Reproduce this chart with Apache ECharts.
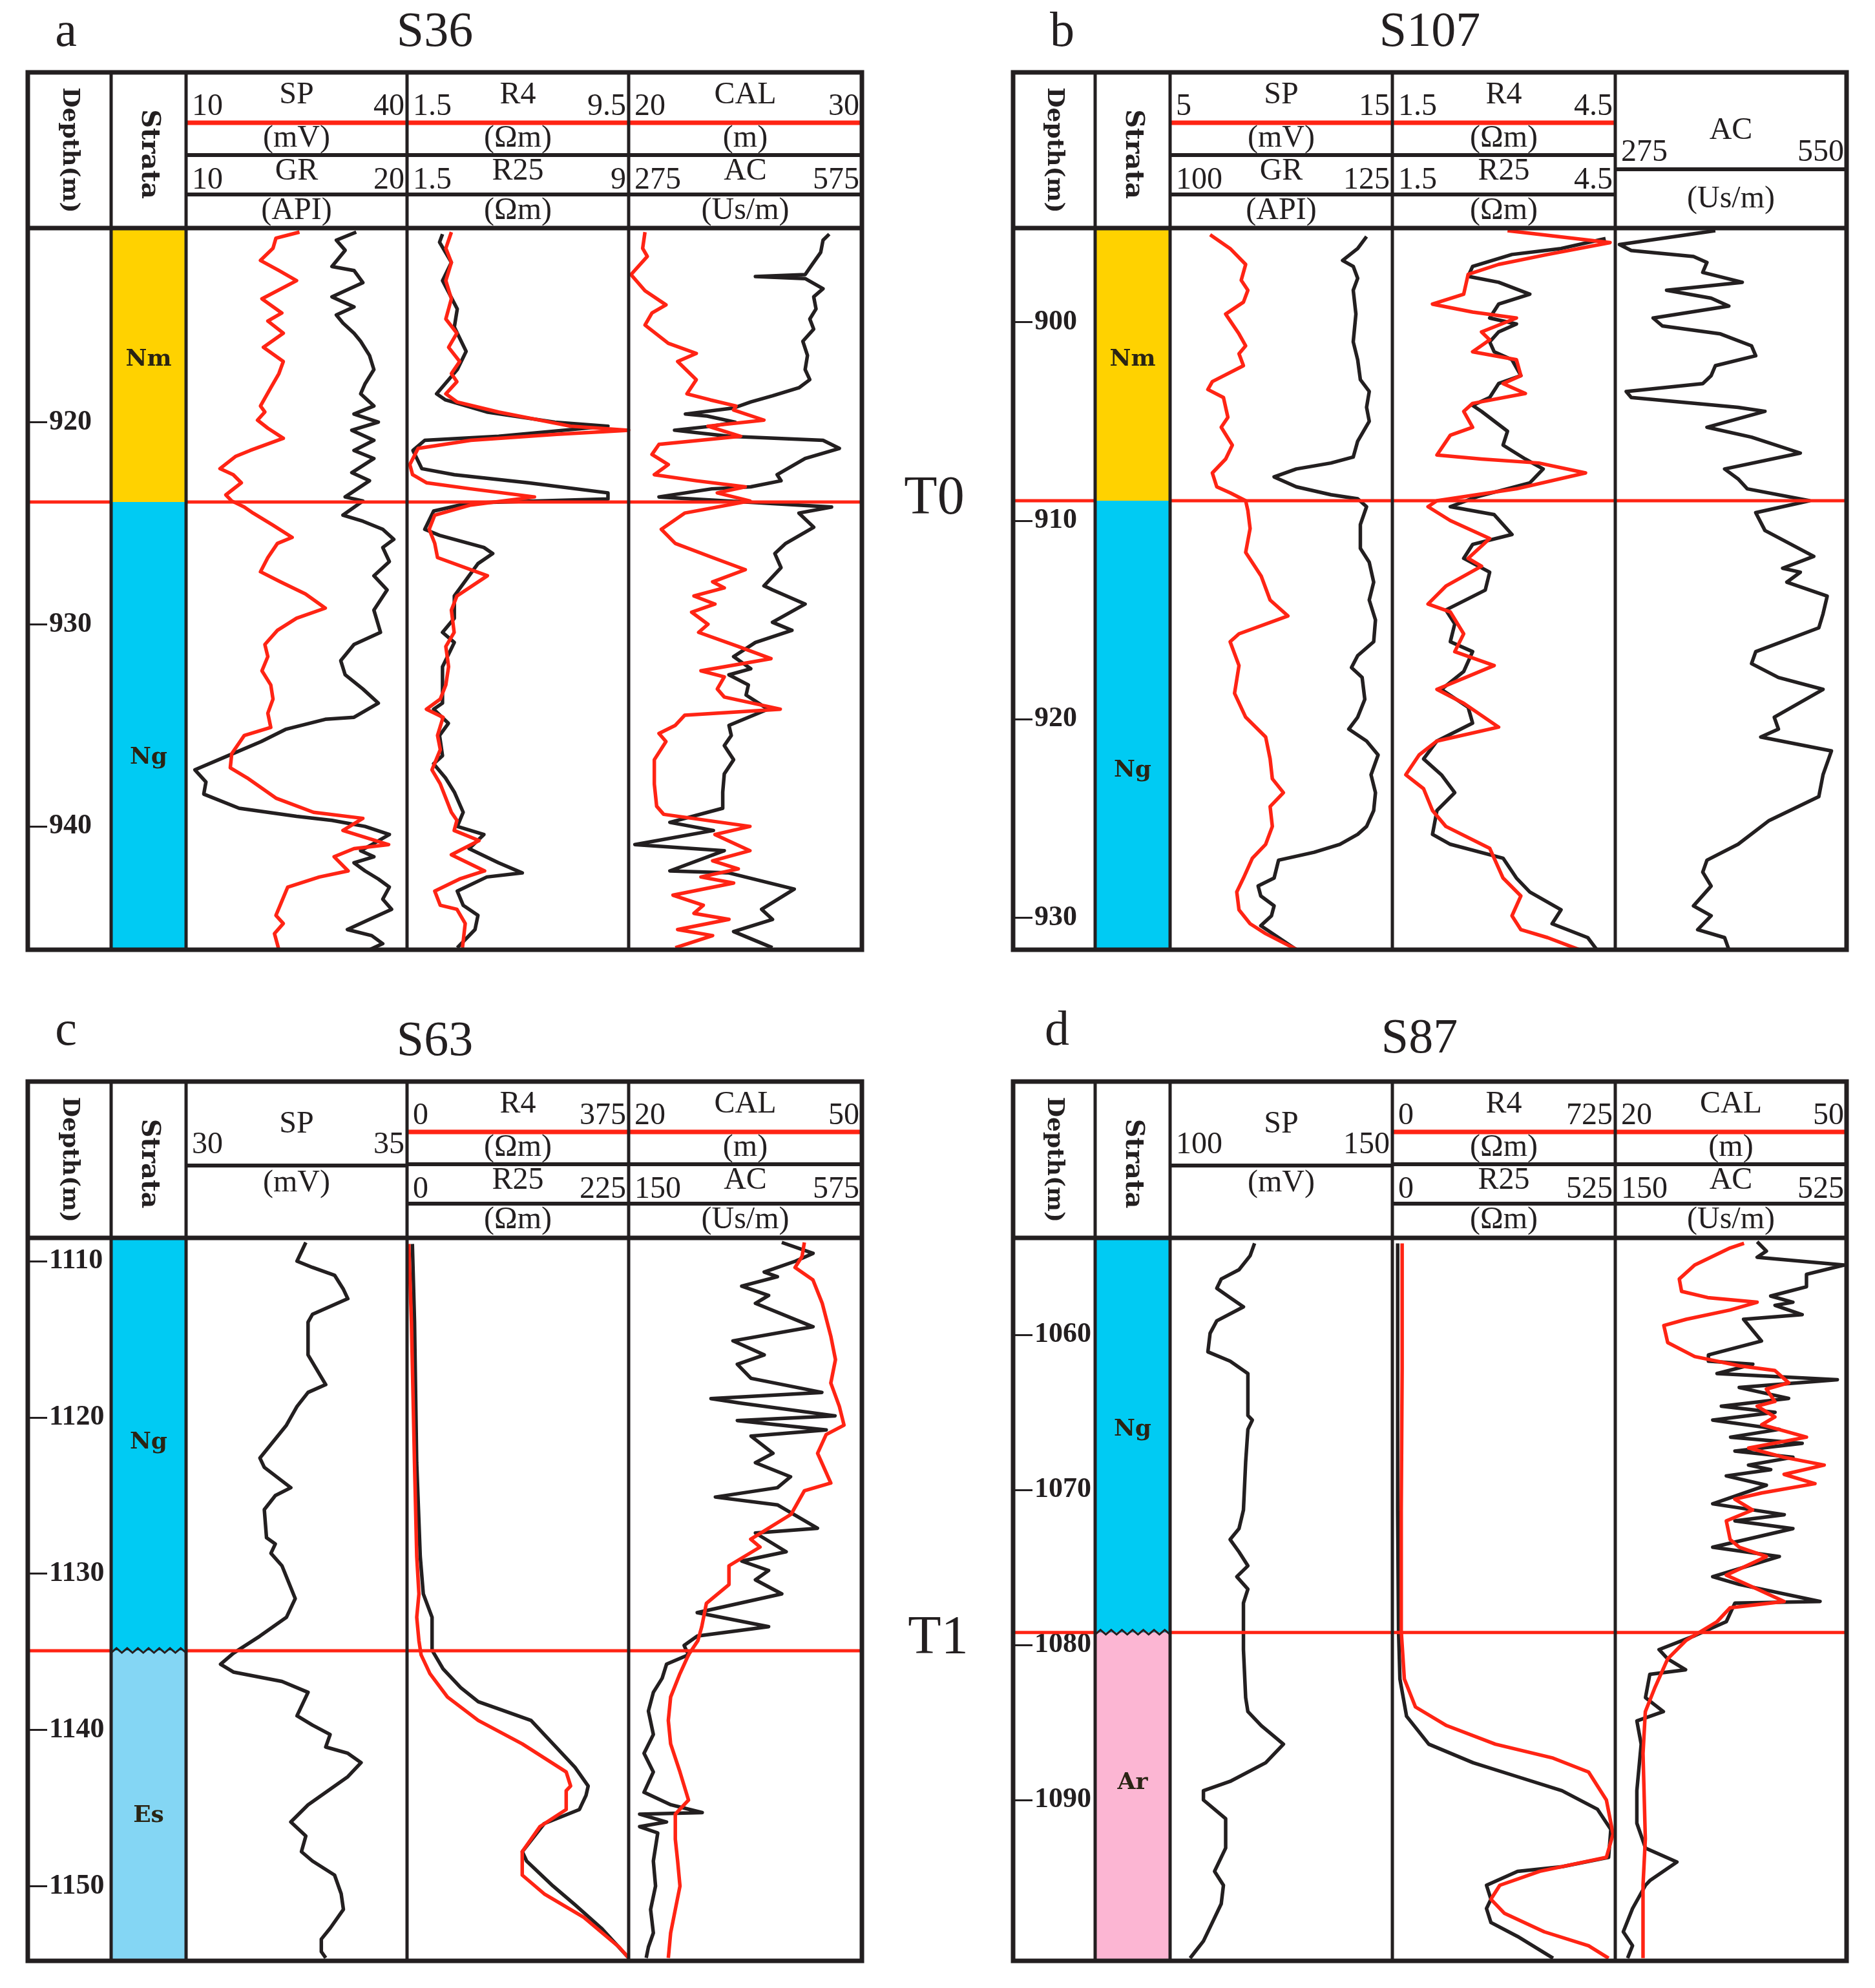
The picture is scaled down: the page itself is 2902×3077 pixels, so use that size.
<!DOCTYPE html>
<html>
<head>
<meta charset="utf-8">
<script src="https://cdn.jsdelivr.net/npm/echarts@6.0.0/dist/echarts.min.js"></script>
<style>
  html, body { margin: 0; background: #fff; }
  #chart { width: 2902px; height: 3077px; }
</style>
</head>
<body>
<div id="chart"></div>
<script>
// well S36 (a) : [value, depth]
const aRange = [910.4, 946.1];
const aTicks = [920, 930, 940];
const aTop = 923.95;
const aStrata = [[910.4, 923.95, 'Nm', 916.9], [923.95, 946.1, 'Ng', 936.6]];
const aHeads = [['SP', 10, 40, '(mV)'], ['GR', 10, 20, '(API)'], ['R4', 1.5, 9.5, '(Ωm)'], ['R25', 1.5, 9, '(Ωm)'], ['CAL', 20, 30, '(m)'], ['AC', 275, 575, '(Us/m)']];
const aSP = [[25.4,910.6],[22.2,910.9],[21.8,911.4],[20.1,912.0],[22.6,912.5],[25.0,913.0],[20.3,913.9],[23.0,914.6],[21.1,915.0],[23.2,915.6],[20.5,916.3],[23.2,917.0],[22.6,917.6],[21.5,918.3],[20.1,919.2],[20.7,919.5],[19.7,919.9],[21.1,920.3],[23.2,920.8],[18.7,921.4],[16.7,921.7],[14.6,922.3],[16.4,922.6],[17.5,923.0],[15.4,923.6],[16.2,923.9],[17.9,924.2],[19.1,924.5],[21.8,925.1],[24.4,925.7],[22.4,926.0],[21.1,926.7],[20.1,927.4],[22.8,927.9],[26.2,928.5],[28.9,929.2],[25.0,929.7],[22.4,930.3],[20.7,931.0],[21.1,931.6],[20.3,932.3],[21.5,933.0],[21.8,933.7],[21.1,934.4],[21.5,935.1],[17.9,935.5],[16.2,936.4],[16.0,937.1],[18.3,937.6],[22.2,938.6],[27.3,939.3],[34.0,939.6],[31.3,940.2],[37.5,940.9],[32.8,941.1],[30.1,941.5],[32.0,942.2],[28.1,942.5],[23.8,943.0],[23.0,943.7],[22.2,944.4],[23.2,944.8],[22.0,945.3],[22.6,946.1]];
const aGR = [[17.7,910.6],[16.8,911.0],[17.2,911.5],[16.6,912.3],[17.6,912.5],[18.0,913.1],[16.6,913.8],[17.6,914.3],[16.8,914.7],[17.1,915.1],[17.6,915.6],[17.9,916.0],[18.3,916.7],[18.5,917.4],[18.1,918.1],[17.9,918.6],[18.5,919.2],[17.6,919.6],[18.7,920.0],[17.5,920.4],[18.5,920.9],[17.6,921.4],[18.5,921.8],[17.5,922.5],[18.3,922.9],[17.2,923.7],[18.0,923.9],[17.1,924.6],[18.0,924.9],[18.9,925.3],[19.4,925.8],[18.9,926.2],[19.2,926.9],[18.5,927.6],[19.1,928.3],[18.5,929.3],[18.8,930.4],[17.6,931.0],[17.0,931.8],[17.2,932.5],[18.0,933.2],[18.7,933.9],[17.6,934.6],[16.3,934.7],[14.5,935.2],[13.4,935.8],[11.9,936.5],[10.4,937.2],[10.9,937.8],[10.8,938.4],[12.4,939.1],[15.0,939.5],[16.6,939.7],[18.1,940.0],[19.2,940.4],[18.4,940.9],[17.9,941.2],[18.5,941.5],[17.6,941.8],[18.1,942.2],[18.7,942.6],[19.2,943.0],[18.9,943.6],[19.3,944.1],[18.3,944.6],[17.3,945.1],[18.4,945.4],[18.9,945.8],[18.3,946.1]];
const aR4 = [[3.1,910.6],[2.9,911.4],[3.1,912.1],[2.9,913.0],[3.1,913.9],[2.9,914.9],[3.3,915.6],[3.0,916.3],[3.4,917.0],[3.1,917.6],[3.3,918.0],[2.9,918.6],[3.3,919.0],[4.8,919.5],[7.4,920.2],[9.5,920.4],[6.9,920.6],[3.8,920.9],[1.9,921.3],[1.6,922.1],[1.7,922.6],[2.2,923.0],[3.8,923.3],[6.1,923.7],[3.8,924.1],[2.5,924.6],[2.3,925.3],[2.5,926.0],[2.6,926.7],[4.4,927.6],[3.3,928.6],[3.1,929.3],[3.2,930.4],[2.9,931.1],[3.0,932.1],[2.9,933.0],[2.7,933.7],[2.2,934.2],[2.8,934.6],[2.6,935.5],[2.7,936.2],[2.4,937.2],[2.7,937.9],[3.1,939.3],[3.3,939.7],[3.2,940.2],[4.1,940.7],[3.1,941.4],[4.3,942.2],[3.4,942.6],[2.5,943.2],[2.7,943.9],[3.3,944.1],[3.6,944.8],[3.5,946.0]];
const aR25 = [[2.7,910.7],[2.6,911.1],[3.0,912.1],[2.7,913.0],[3.2,914.4],[3.1,915.3],[3.5,916.5],[3.2,917.4],[2.5,918.6],[2.8,918.9],[4.2,919.5],[6.5,920.0],[8.3,920.2],[4.6,920.7],[2.1,920.9],[1.7,921.4],[2.0,922.3],[3.1,922.6],[5.6,923.0],[8.3,923.5],[8.3,923.8],[3.6,924.0],[2.4,924.4],[2.1,925.3],[2.6,925.6],[4.1,926.2],[4.4,926.5],[3.9,927.0],[3.6,927.6],[3.1,928.6],[3.1,929.7],[2.7,930.4],[3.1,930.9],[2.7,932.1],[2.7,933.2],[2.7,933.9],[2.4,934.2],[2.9,934.9],[2.6,935.5],[2.7,936.5],[2.4,936.9],[2.8,937.6],[3.1,938.3],[3.4,939.3],[3.2,940.0],[4.1,940.4],[3.6,941.1],[4.6,941.8],[5.4,942.3],[4.2,942.5],[3.2,943.2],[3.4,943.9],[3.9,944.4],[3.8,945.1],[3.2,946.0]];
const aCAL = [[20.7,910.6],[20.6,911.4],[20.8,911.8],[20.1,912.7],[20.7,913.5],[21.6,914.2],[21.0,914.6],[20.7,915.2],[21.7,916.1],[22.9,916.6],[22.1,917.0],[22.9,917.9],[22.5,918.6],[23.5,918.9],[24.6,919.2],[24.5,919.4],[25.8,919.9],[23.4,920.2],[24.8,920.7],[21.3,921.1],[21.0,921.6],[21.7,922.1],[21.1,922.6],[22.9,922.9],[25.0,923.2],[23.8,923.5],[25.2,923.9],[22.4,924.5],[21.4,925.3],[22.0,926.0],[23.6,926.7],[25.0,927.3],[23.6,927.9],[24.1,928.2],[22.8,928.6],[23.7,929.0],[22.7,929.4],[23.4,930.0],[23.0,930.4],[24.7,931.1],[26.1,931.7],[23.1,932.3],[24.1,932.6],[23.8,933.2],[24.1,933.6],[26.5,934.2],[22.4,934.5],[22.0,935.0],[21.3,935.4],[21.6,935.8],[21.1,936.7],[21.1,937.9],[21.2,939.0],[21.5,939.4],[25.2,940.0],[23.7,940.4],[25.2,941.2],[23.6,941.7],[24.7,942.1],[23.1,942.5],[24.5,942.8],[21.9,943.4],[23.2,943.9],[22.8,944.3],[24.3,944.6],[22.1,945.1],[23.6,945.4],[22.0,946.0]];
const aAC = [[533,910.7],[525,911.0],[522,911.6],[511,912.2],[502,912.7],[438,912.8],[502,912.9],[525,913.4],[513,913.8],[516,914.4],[508,914.9],[513,915.4],[499,916.0],[505,916.7],[502,917.4],[508,917.9],[494,918.3],[460,918.7],[432,919.0],[410,919.3],[348,919.6],[376,919.7],[412,920.0],[382,920.2],[334,920.4],[404,920.7],[525,920.9],[546,921.3],[502,921.8],[466,922.6],[471,922.9],[432,923.2],[382,923.3],[314,923.7],[536,924.2],[494,924.5],[513,925.2],[477,926.0],[463,926.5],[471,927.2],[449,928.1],[460,928.3],[502,929.0],[460,929.9],[485,930.3],[438,930.9],[410,931.6],[432,932.2],[404,932.5],[429,933.0],[426,933.5],[454,934.2],[404,935.0],[407,935.5],[398,936.0],[410,936.7],[398,937.4],[396,938.3],[396,939.1],[328,939.8],[384,940.2],[283,940.9],[398,941.2],[328,942.2],[404,942.3],[488,943.1],[446,944.1],[460,944.6],[410,945.2],[460,946.0]];

// well S107 (b)
const bRange = [895.27, 931.61];
const bTicks = [900, 910, 920, 930];
const bTop = 909.0;
const bStrata = [[895.27, 909.0, 'Nm', 901.9], [909.0, 931.61, 'Ng', 922.6]];
const bHeads = [['SP', 5, 15, '(mV)'], ['GR', 100, 125, '(API)'], ['R4', 1.5, 4.5, '(Ωm)'], ['R25', 1.5, 4.5, '(Ωm)'], ['AC', 275, 550, '(Us/m)']];
const bSP = [[6.8,895.6],[7.7,896.3],[8.4,897.1],[8.2,897.9],[8.5,898.4],[8.3,899.0],[7.5,899.6],[8.1,900.6],[8.4,901.2],[8.1,901.6],[8.3,902.2],[6.9,903.0],[6.7,903.4],[7.4,903.8],[7.6,904.8],[7.3,905.3],[7.8,906.2],[7.5,906.9],[6.9,907.6],[7.1,908.3],[7.7,908.6],[8.4,909.0],[8.5,909.5],[8.6,910.4],[8.4,911.6],[9.1,912.8],[9.5,914.0],[10.3,914.8],[8.1,915.7],[7.7,916.1],[8.1,917.3],[7.9,918.7],[8.4,919.9],[9.3,920.9],[9.5,922.0],[9.6,923.0],[10.1,923.7],[9.5,924.4],[9.6,925.4],[9.3,926.3],[8.7,927.0],[8.3,928.0],[8.0,928.7],[8.1,929.6],[8.6,930.3],[9.3,930.8],[10.7,931.6]];
const bGR = [[122.1,895.7],[121.1,896.3],[119.4,896.9],[120.6,897.2],[121.1,897.8],[120.6,898.4],[120.9,899.6],[120.6,901.0],[121.1,901.9],[121.4,902.9],[122.4,903.5],[122.1,904.3],[122.4,905.0],[121.1,906.0],[120.6,906.8],[118.1,907.1],[114.2,907.4],[111.7,907.8],[114.2,908.3],[118.1,908.7],[121.1,908.9],[122.1,909.3],[121.4,910.2],[121.4,911.4],[122.4,912.1],[122.9,913.1],[122.4,914.0],[123.1,915.0],[122.9,916.1],[121.1,916.8],[120.4,917.4],[121.6,917.9],[121.9,919.0],[121.1,919.9],[120.1,920.5],[122.1,921.1],[123.4,921.8],[122.6,922.8],[123.1,923.7],[122.9,924.6],[122.1,925.4],[121.1,925.8],[119.1,926.3],[116.2,926.7],[112.2,927.1],[111.7,928.0],[109.9,928.4],[110.2,928.9],[111.7,929.4],[111.4,929.9],[110.2,930.4],[112.2,931.0],[114.2,931.6]];
const bR4 = [[3.05,895.4],[4.43,896.0],[3.59,896.6],[2.93,897.1],[2.52,897.6],[2.46,898.6],[2.04,899.1],[2.58,899.5],[3.17,899.8],[2.70,900.5],[2.81,900.9],[2.58,901.5],[3.17,901.9],[3.23,902.7],[2.99,903.1],[3.29,903.6],[2.58,904.1],[2.46,904.5],[2.58,905.3],[2.28,905.7],[2.10,906.7],[2.70,906.9],[3.47,907.1],[4.10,907.6],[3.17,908.4],[2.10,909.0],[1.98,909.3],[2.28,910.0],[2.81,910.9],[2.52,911.9],[2.70,912.3],[2.22,913.3],[1.98,914.2],[2.28,914.6],[2.46,915.7],[2.34,916.6],[2.87,917.3],[2.10,918.5],[2.46,919.2],[2.93,920.4],[2.10,921.1],[1.86,921.8],[1.68,922.8],[1.92,923.5],[2.04,924.6],[2.22,925.4],[2.81,926.5],[2.99,928.0],[3.23,928.9],[3.11,929.9],[3.23,930.6],[3.59,931.0],[4.01,931.6]];
const bR25 = [[4.37,895.8],[3.77,896.3],[3.11,896.6],[2.58,897.2],[2.52,897.7],[2.93,898.0],[3.35,898.6],[2.93,899.1],[2.81,899.8],[3.17,900.1],[2.93,900.5],[2.81,901.0],[2.87,901.5],[3.11,901.9],[3.23,902.7],[2.93,903.1],[2.81,903.8],[2.58,904.2],[2.70,904.5],[3.05,905.5],[2.99,906.2],[3.29,906.9],[3.53,907.4],[3.35,908.1],[2.64,908.8],[2.28,909.3],[2.87,909.7],[3.11,910.7],[2.58,911.2],[2.46,911.9],[2.81,912.6],[2.75,913.5],[2.22,914.5],[2.34,915.2],[2.28,916.1],[2.58,916.6],[2.46,917.6],[2.16,918.5],[2.52,919.4],[2.58,920.2],[2.10,921.1],[1.92,922.0],[2.16,922.8],[2.34,923.7],[2.10,924.6],[2.04,925.8],[2.28,926.3],[2.99,927.0],[3.17,928.0],[3.35,928.7],[3.77,929.6],[3.65,930.3],[4.13,931.0],[4.25,931.6]];
const bAC = [[394,895.4],[280,896.1],[294,896.4],[368,896.7],[384,897.0],[379,897.5],[426,898.0],[336,898.4],[389,898.8],[410,899.2],[320,899.8],[331,900.2],[400,900.6],[437,901.2],[442,901.7],[394,902.2],[389,902.7],[379,903.1],[288,903.5],[294,903.8],[421,904.3],[453,904.5],[384,905.3],[437,905.8],[495,906.6],[405,907.4],[421,907.9],[432,908.4],[506,909.0],[442,909.6],[453,910.5],[511,911.8],[474,912.4],[495,912.6],[479,913.1],[527,913.8],[522,914.7],[517,915.4],[442,916.6],[437,917.2],[469,917.9],[522,918.5],[464,919.9],[469,920.5],[448,920.9],[532,921.6],[522,922.8],[517,923.9],[458,925.1],[421,926.3],[384,927.1],[379,927.7],[389,928.4],[368,929.4],[389,929.9],[373,930.6],[405,931.0],[410,931.6]];

// well S63 (c)
const cRange = [1108.51, 1154.79];
const cTicks = [1110, 1120, 1130, 1140, 1150];
const cTop = 1134.94;
const cStrata = [[1108.51, 1134.94, 'Ng', 1121.6], [1134.94, 1154.79, 'Es', 1145.5]];
const cHeads = [['SP', 30, 35, '(mV)'], ['R4', 0, 375, '(Ωm)'], ['R25', 0, 225, '(Ωm)'], ['CAL', 20, 50, '(m)'], ['AC', 150, 575, '(Us/m)']];
const cSP = [[32.71,1108.8],[32.51,1110.0],[32.86,1110.4],[33.36,1110.9],[33.56,1111.8],[33.66,1112.4],[32.86,1113.4],[32.76,1113.9],[32.76,1116.0],[33.16,1117.9],[32.76,1118.4],[32.51,1119.3],[32.27,1120.5],[31.67,1122.6],[31.77,1123.2],[32.37,1124.5],[32.02,1125.0],[31.77,1125.9],[31.82,1127.7],[32.02,1128.1],[31.92,1128.7],[32.17,1129.5],[32.47,1131.6],[32.27,1132.8],[31.67,1134.0],[31.07,1135.1],[30.78,1135.8],[31.07,1136.3],[32.17,1136.9],[32.76,1137.6],[32.51,1139.1],[32.86,1139.7],[33.26,1140.3],[33.16,1141.1],[33.66,1141.5],[33.96,1142.1],[33.66,1143.0],[32.76,1144.8],[32.37,1145.9],[32.71,1146.8],[32.61,1147.8],[32.86,1148.4],[33.36,1149.3],[33.51,1150.5],[33.56,1151.5],[33.26,1152.7],[33.06,1153.4],[33.06,1154.2],[33.16,1154.6]];
const cR4 = [[3.0,1108.9],[7.4,1113.9],[12.6,1122.9],[16.4,1128.9],[20.1,1131.3],[16.4,1132.8],[20.1,1134.3],[23.8,1135.2],[38.7,1136.4],[68.4,1137.9],[120.5,1139.4],[194.9,1140.9],[269.3,1142.7],[276.8,1143.6],[269.3,1143.9],[269.3,1145.1],[224.7,1146.2],[194.9,1147.8],[194.9,1149.3],[232.1,1150.5],[299.1,1152.0],[358.6,1153.9],[375.0,1154.6]];
const cR25 = [[5.4,1108.9],[7.6,1113.9],[9.8,1122.9],[13.4,1128.9],[16.5,1131.3],[25.4,1132.8],[25.4,1134.9],[36.6,1136.1],[54.5,1137.3],[72.3,1138.2],[94.6,1138.7],[125.9,1139.4],[148.2,1140.9],[170.5,1142.4],[183.9,1143.6],[181.7,1144.2],[175.0,1145.1],[139.3,1146.0],[117.0,1147.8],[121.4,1148.4],[148.2,1150.0],[170.5,1151.2],[197.3,1152.7],[225.0,1154.6]];
const cCAL = [[42.6,1108.8],[42.3,1109.7],[41.4,1110.4],[43.7,1111.2],[44.9,1112.7],[46.0,1114.8],[46.6,1116.3],[46.0,1117.8],[47.1,1119.3],[47.7,1120.5],[45.4,1121.1],[44.3,1122.3],[46.0,1124.2],[42.6,1124.7],[40.9,1126.2],[35.7,1127.8],[36.9,1128.3],[32.9,1129.5],[32.9,1130.7],[30.0,1131.9],[29.4,1133.4],[28.9,1134.3],[27.7,1135.2],[26.6,1136.4],[25.4,1137.9],[25.1,1139.4],[25.4,1140.9],[26.6,1142.7],[27.7,1144.5],[26.0,1145.4],[26.0,1147.0],[26.3,1148.4],[26.6,1150.0],[26.0,1151.5],[25.4,1153.0],[25.1,1154.6]];
const cAC = [[429,1108.8],[486,1109.5],[454,1110.0],[397,1110.7],[421,1111.0],[356,1111.6],[405,1112.2],[381,1112.7],[486,1114.2],[340,1115.1],[397,1116.0],[348,1116.6],[373,1117.5],[502,1118.4],[300,1118.8],[356,1119.1],[526,1119.9],[348,1120.2],[510,1120.8],[373,1121.2],[413,1122.3],[381,1122.9],[445,1123.8],[421,1124.5],[308,1125.1],[421,1125.6],[494,1127.1],[381,1127.4],[437,1128.6],[356,1129.2],[405,1129.8],[381,1130.4],[429,1131.3],[275,1132.5],[405,1133.4],[275,1134.0],[251,1134.6],[259,1135.2],[219,1135.8],[211,1136.7],[195,1137.6],[186,1138.8],[195,1140.3],[178,1141.5],[195,1142.7],[178,1144.0],[227,1144.8],[284,1145.3],[170,1145.4],[219,1145.9],[170,1146.2],[203,1146.6],[195,1148.4],[199,1150.0],[190,1151.5],[195,1153.0],[186,1153.9],[182,1154.6]];

// well S87 (d)
const dRange = [1053.75, 1100.375];
const dTicks = [1060, 1070, 1080, 1090];
const dTop = 1079.2;
const dStrata = [[1053.75, 1079.2, 'Ng', 1066.1], [1079.2, 1100.375, 'Ar', 1088.9]];
const dHeads = [['SP', 100, 150, '(mV)'], ['R4', 0, 725, '(Ωm)'], ['R25', 0, 525, '(Ωm)'], ['CAL', 20, 50, '(m)'], ['AC', 150, 525, '(Us/m)']];
const dSP = [[119.0,1054.1],[118.0,1054.9],[115.5,1055.8],[111.5,1056.4],[110.5,1057.0],[113.5,1057.6],[116.5,1058.2],[110.5,1059.1],[109.0,1059.9],[108.5,1061.1],[113.5,1061.7],[117.5,1062.5],[117.5,1065.2],[118.5,1065.5],[117.5,1066.1],[117.0,1068.2],[116.5,1071.3],[115.5,1072.5],[113.5,1073.2],[115.5,1074.0],[117.5,1074.9],[115.0,1075.6],[117.5,1076.4],[116.5,1077.3],[116.5,1080.3],[117.0,1083.4],[117.5,1084.3],[120.5,1085.2],[125.5,1086.4],[121.5,1087.6],[113.5,1088.8],[107.5,1089.4],[107.5,1090.0],[112.5,1091.2],[112.5,1093.1],[110.0,1094.6],[112.0,1095.5],[111.5,1096.7],[109.5,1097.9],[107.5,1099.1],[104.5,1100.2]];
const dR4 = [[31.8,1054.1],[31.8,1062.2],[28.9,1071.3],[28.9,1079.1],[39.0,1082.2],[75.1,1084.0],[176.2,1085.2],[335.1,1086.4],[522.8,1087.3],[638.3,1088.2],[696.1,1090.0],[717.8,1092.2],[696.1,1093.7],[479.5,1094.6],[349.5,1095.5],[320.6,1096.4],[363.9,1097.3],[493.9,1098.5],[638.3,1099.4],[703.3,1100.2]];
const dR25 = [[12.5,1054.1],[12.5,1062.2],[12.5,1071.3],[14.6,1079.1],[17.8,1082.2],[33.5,1084.6],[85.8,1086.4],[190.3,1087.6],[294.9,1088.5],[399.5,1089.4],[483.2,1090.6],[514.5,1091.9],[509.3,1093.7],[399.5,1094.3],[294.9,1094.6],[221.7,1095.5],[232.2,1096.4],[221.7,1097.0],[232.2,1097.9],[294.9,1098.8],[378.6,1100.2]];
const dCAL = [[36.7,1054.1],[34.9,1054.4],[30.3,1055.5],[28.3,1056.4],[28.6,1057.2],[32.0,1057.6],[38.4,1057.9],[34.9,1058.4],[29.2,1059.0],[26.3,1059.4],[26.8,1060.5],[30.3,1061.4],[36.1,1062.0],[40.7,1062.3],[42.5,1063.1],[39.6,1063.5],[40.7,1064.3],[38.4,1064.6],[40.7,1065.3],[39.0,1065.8],[44.8,1066.6],[37.3,1067.3],[41.9,1067.9],[47.1,1068.4],[41.9,1069.0],[45.9,1069.6],[39.0,1070.2],[35.5,1070.6],[37.8,1071.3],[34.4,1072.0],[34.9,1073.2],[36.1,1073.7],[39.6,1074.3],[34.4,1075.5],[38.4,1076.4],[41.9,1077.2],[34.9,1077.6],[33.2,1078.5],[29.2,1079.7],[26.8,1080.9],[25.1,1082.8],[23.9,1084.3],[23.6,1087.0],[23.9,1092.5],[23.6,1095.5],[23.6,1100.2]];
const dAC = [[380,1054.0],[395,1054.6],[380,1055.0],[521,1055.5],[460,1056.1],[460,1056.9],[402,1057.5],[438,1057.9],[409,1058.1],[453,1058.7],[358,1059.0],[387,1060.4],[301,1061.3],[301,1061.7],[373,1061.9],[315,1062.5],[510,1062.9],[351,1063.4],[431,1064.1],[322,1064.6],[409,1065.0],[308,1065.5],[416,1066.1],[337,1066.6],[453,1067.0],[344,1067.5],[438,1067.9],[366,1068.4],[402,1068.7],[330,1069.1],[395,1069.7],[308,1070.9],[424,1071.6],[344,1072.0],[438,1072.5],[308,1073.7],[416,1074.3],[308,1075.6],[351,1076.1],[482,1077.2],[344,1077.3],[330,1078.5],[279,1079.4],[221,1080.3],[235,1080.9],[264,1081.6],[206,1081.9],[199,1083.4],[228,1084.3],[185,1084.9],[192,1086.4],[185,1089.4],[185,1091.5],[199,1093.1],[250,1094.0],[206,1095.2],[199,1095.5],[178,1097.0],[163,1098.5],[178,1099.4],[170,1100.2]];

const wells = ['S36', 'S107', 'S63', 'S87'];
const letters = ['a', 'b', 'c', 'd'];
const markers = ['T0', 'T1'];

const INK = '#231f20';
const RED = '#ff2414';
const strataColor = { Nm: '#ffd200', Ng: '#00cbf3', Es: '#84d6f4', Ar: '#fcb6d3' };
const SERIF = '"Liberation Serif"';
const HEAD = '48px ' + SERIF;

// column edges: depth | strata | track1 | track2 | track3
const LA = { x: [43, 172, 288, 630, 973, 1334], top: 112, hdr: 353, bottom: 1470, title: [673, 51], letter: [102, 51] };
const LB = { x: [1568, 1695, 1811, 2155, 2500, 2858], top: 112, hdr: 353, bottom: 1470, title: [2213, 51], letter: [1644, 51] };
const LC = { x: [43, 172, 288, 630, 973, 1334], top: 1674, hdr: 1916, bottom: 3035, title: [673, 1613], letter: [102, 1597] };
const LD = { x: [1568, 1695, 1811, 2155, 2500, 2858], top: 1674, hdr: 1916, bottom: 3035, title: [2197, 1609], letter: [1636, 1597] };
const singleB = { name: 90, nums: 124, line: 150, unit: 196 };
const singleCD = { name: 66, nums: 98, line: 130, unit: 157 };

const panels = [
  { L: LA, i: 0, range: aRange, ticks: aTicks, boundary: aTop, strata: aStrata, zig: false, single: null,
    tracks: [[[aHeads[0], aSP, RED], [aHeads[1], aGR, INK]], [[aHeads[2], aR4, RED], [aHeads[3], aR25, INK]], [[aHeads[4], aCAL, RED], [aHeads[5], aAC, INK]]] },
  { L: LB, i: 1, range: bRange, ticks: bTicks, boundary: bTop, strata: bStrata, zig: false, single: singleB,
    tracks: [[[bHeads[0], bSP, RED], [bHeads[1], bGR, INK]], [[bHeads[2], bR4, RED], [bHeads[3], bR25, INK]], [[bHeads[4], bAC, INK]]] },
  { L: LC, i: 2, range: cRange, ticks: cTicks, boundary: cTop, strata: cStrata, zig: true, single: singleCD,
    tracks: [[[cHeads[0], cSP, INK]], [[cHeads[1], cR4, RED], [cHeads[2], cR25, INK]], [[cHeads[3], cCAL, RED], [cHeads[4], cAC, INK]]] },
  { L: LD, i: 3, range: dRange, ticks: dTicks, boundary: dTop, strata: dStrata, zig: true, single: singleCD,
    tracks: [[[dHeads[0], dSP, INK]], [[dHeads[1], dR4, RED], [dHeads[2], dR25, INK]], [[dHeads[3], dCAL, RED], [dHeads[4], dAC, INK]]] }
];

const grid = [], xAxis = [], yAxis = [], series = [], graphic = [];

function addGrid(l, r, t, b) {
  grid.push({ left: l, top: t, width: r - l, height: b - t, show: false, containLabel: false, outerBoundsMode: 'none' });
  return grid.length - 1;
}
function txt(x, y, text, align, font, rot) {
  return { type: 'text', x, y, z: 60, rotation: rot || 0,
    style: { text, font, fill: INK, textAlign: align, textVerticalAlign: 'middle', align, verticalAlign: 'middle' } };
}
function hline(x1, x2, y, color, w) {
  return { type: 'line', z: 55, shape: { x1, y1: y, x2, y2: y }, style: { stroke: color, lineWidth: w } };
}
function vline(x, y1, y2, w) {
  return { type: 'line', z: 55, shape: { x1: x, y1, x2: x, y2 }, style: { stroke: INK, lineWidth: w } };
}

panels.forEach(p => {
  const L = p.L, x = L.x, t = L.top;

  // depth column with its axis
  const gd = addGrid(x[0], x[1], L.hdr, L.bottom);
  const xd = xAxis.push({ gridIndex: gd, type: 'value', min: 0, max: 1, show: false }) - 1;
  const yd = yAxis.push({
    gridIndex: gd, type: 'value', inverse: true, min: p.range[0], max: p.range[1], position: 'left',
    axisLine: { show: false }, splitLine: { show: false },
    axisTick: { show: true, inside: true, length: 30, customValues: p.ticks, lineStyle: { color: INK, width: 3 } },
    axisLabel: { show: true, inside: true, margin: 33, customValues: p.ticks, formatter: v => String(v),
      color: INK, fontFamily: 'Liberation Serif', fontWeight: 'bold', fontSize: 44 }
  }) - 1;
  series.push({
    type: 'custom', xAxisIndex: xd, yAxisIndex: yd, z: 6, silent: true, data: [[0, p.boundary]],
    renderItem: (params, api) => {
      const y = api.coord([0, api.value(1)])[1];
      return { type: 'line', shape: { x1: x[0], y1: y, x2: x[5], y2: y }, style: { stroke: RED, lineWidth: 5 } };
    }
  });

  // strata column
  const gs = addGrid(x[1], x[2], L.hdr, L.bottom);
  const xs = xAxis.push({ gridIndex: gs, type: 'value', min: 0, max: 1, show: false }) - 1;
  const ys = yAxis.push({ gridIndex: gs, type: 'value', inverse: true, min: p.range[0], max: p.range[1], show: false }) - 1;
  series.push({
    type: 'custom', xAxisIndex: xs, yAxisIndex: ys, z: 7, silent: true,
    data: p.strata.map(s => [0, s[0], s[1], s[3]]),
    renderItem: (params, api) => {
      const cs = params.coordSys;
      const name = p.strata[params.dataIndex][2];
      const y0 = api.coord([0, api.value(1)])[1];
      const y1 = api.coord([0, api.value(2)])[1];
      const yl = api.coord([0, api.value(3)])[1];
      const kids = [
        { type: 'rect', shape: { x: cs.x, y: y0, width: cs.width, height: y1 - y0 }, style: { fill: strataColor[name] } },
        { type: 'text', x: cs.x + cs.width / 2, y: yl,
          style: { text: name, font: 'bold 36px "DejaVu Serif"', fill: '#2a2414', textAlign: 'center', textVerticalAlign: 'middle', align: 'center', verticalAlign: 'middle' } }
      ];
      if (p.zig && params.dataIndex > 0) {
        const pts = [];
        for (let k = 0; k <= 14; k++) pts.push([cs.x + cs.width * k / 14, y0 + (k % 2 ? -4 : 3)]);
        kids.push({ type: 'polyline', shape: { points: pts }, style: { stroke: INK, lineWidth: 3, fill: null } });
      }
      return { type: 'group', children: kids };
    }
  });

  // log tracks
  p.tracks.forEach((tr, ti) => {
    const xl = x[ti + 2], xr = x[ti + 3], xc = (xl + xr) / 2;
    const g = addGrid(xl, xr, L.hdr, L.bottom);
    const yi = yAxis.push({ gridIndex: g, type: 'value', inverse: true, min: p.range[0], max: p.range[1], show: false }) - 1;
    tr.forEach((c, k) => {
      const h = c[0];
      const xi = xAxis.push({ gridIndex: g, type: 'value', min: h[1], max: h[2], show: false }) - 1;
      series.push({ type: 'line', xAxisIndex: xi, yAxisIndex: yi, data: c[1], symbol: 'none', silent: true,
        lineStyle: { color: c[2], width: 5.5, join: 'round' }, z: c[2] === RED ? 4 : 3 });

      const off = tr.length === 2
        ? (k === 0 ? { name: 35, nums: 53, line: 78, unit: 102 } : { name: 153, nums: 167, line: 189, unit: 214 })
        : p.single;
      graphic.push(txt(xc, t + off.name, h[0], 'center', HEAD));
      graphic.push(txt(xl + 9, t + off.nums, String(h[1]), 'left', HEAD));
      graphic.push(txt(xr - 4, t + off.nums, String(h[2]), 'right', HEAD));
      graphic.push(txt(xc, t + off.unit, h[3], 'center', HEAD));
      graphic.push(hline(xl, xr, t + off.line, c[2], c[2] === RED ? 7 : 6));
    });
    if (tr.length === 2) graphic.push(hline(xl, xr, t + 128, INK, 6));
  });

  // frame
  graphic.push({ type: 'rect', z: 56, shape: { x: x[0], y: t, width: x[5] - x[0], height: L.bottom - t }, style: { fill: null, stroke: INK, lineWidth: 7 } });
  for (let k = 1; k <= 4; k++) graphic.push(vline(x[k], t, L.bottom, 5));
  graphic.push(hline(x[0], x[5], L.hdr, INK, 7));
  graphic.push(txt((x[0] + x[1]) / 2, (t + L.hdr) / 2, 'Depth(m)', 'center', 'bold 36px "DejaVu Serif"', -Math.PI / 2));
  graphic.push(txt((x[1] + x[2]) / 2, (t + L.hdr) / 2 + 6, 'Strata', 'center', 'bold 40px "DejaVu Serif"', -Math.PI / 2));
  graphic.push(txt(L.title[0], L.title[1], wells[p.i], 'center', '76px ' + SERIF));
  graphic.push(txt(L.letter[0], L.letter[1], letters[p.i], 'center', '76px ' + SERIF));
});

graphic.push(txt(1446, 773, markers[0], 'center', '84px ' + SERIF));
graphic.push(txt(1452, 2537, markers[1], 'center', '84px ' + SERIF));

const chart = echarts.init(document.getElementById('chart'));
chart.setOption({
  backgroundColor: '#ffffff',
  animation: false,
  grid,
  xAxis,
  yAxis,
  series,
  graphic
});
</script>
</body>
</html>
